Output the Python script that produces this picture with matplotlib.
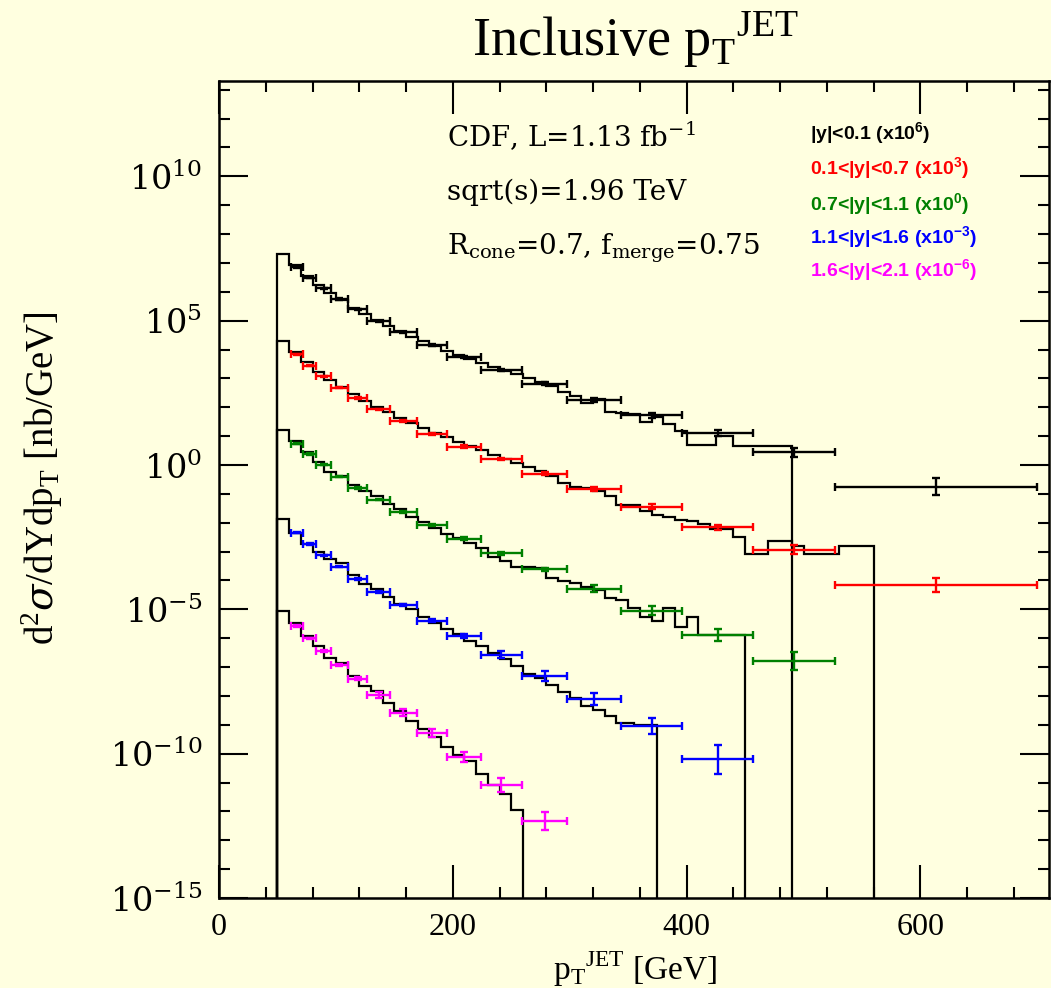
import numpy as np
import matplotlib
matplotlib.use("Agg")
import matplotlib.pyplot as plt
from matplotlib.ticker import FixedLocator, MultipleLocator, NullFormatter

plt.rcParams["mathtext.fontset"] = "dejavuserif"

# pT bins of the measurement (GeV)
pt_edges = [62, 72, 83, 96, 110, 127, 146, 169, 195, 224, 259, 298, 344, 396, 457, 527, 700]

labels = ["|y|<0.1 (x10$^{\\mathdefault{6}}$)",
          "0.1<|y|<0.7 (x10$^{\\mathdefault{3}}$)",
          "0.7<|y|<1.1 (x10$^{\\mathdefault{0}}$)",
          "1.1<|y|<1.6 (x10$^{\\mathdefault{−3}}$)",
          "1.6<|y|<2.1 (x10$^{\\mathdefault{−6}}$)"]
colors = ["black", "red", "#008000", "blue", "magenta"]
scales = [1e6, 1e3, 1e0, 1e-3, 1e-6]

# measured cross sections, log10(d2sigma/dYdpT [nb/GeV]) before scaling, one per pT bin
data_y1 = [0.85, 0.49, 0.12, -0.25, -0.61, -1.02, -1.41, -1.85, -2.26, -2.72, -3.19, -3.74, -4.28, -4.90, -5.56, -6.75]
data_y2 = [0.83, 0.44, 0.07, -0.32, -0.68, -1.07, -1.47, -1.92, -2.36, -2.80, -3.30, -3.84, -4.44, -5.16, -5.93, -7.15]
data_y3 = [0.74, 0.38, 0.01, -0.40, -0.79, -1.20, -1.62, -2.08, -2.55, -3.06, -3.62, -4.28, -5.05, -5.89, -6.80]
data_y4 = [0.66, 0.26, -0.13, -0.52, -0.95, -1.39, -1.85, -2.40, -2.94, -3.58, -4.31, -5.10, -6.05, -7.20]
data_y5 = [0.42, -0.01, -0.45, -0.92, -1.40, -1.96, -2.58, -3.29, -4.11, -5.09, -6.33]

# total error, in decades
err_y1 = [0.02, 0.02, 0.02, 0.02, 0.02, 0.02, 0.025, 0.03, 0.03, 0.04, 0.05, 0.07, 0.08, 0.1, 0.16, 0.3]
err_y2 = [0.02, 0.02, 0.02, 0.02, 0.02, 0.025, 0.025, 0.03, 0.035, 0.04, 0.05, 0.07, 0.075, 0.09, 0.17, 0.24]
err_y3 = [0.02, 0.02, 0.02, 0.02, 0.025, 0.025, 0.03, 0.035, 0.04, 0.05, 0.06, 0.13, 0.16, 0.21, 0.31]
err_y4 = [0.02, 0.02, 0.025, 0.025, 0.03, 0.035, 0.04, 0.05, 0.07, 0.12, 0.16, 0.21, 0.28, 0.5]
err_y5 = [0.03, 0.03, 0.035, 0.04, 0.05, 0.1, 0.13, 0.14, 0.17, 0.23, 0.32]

# theory histograms (log10, before scaling)
th_edges_y1 = list(range(50, 401, 10)) + [425, 440, 490]
th_y1 = [1.30, 0.92, 0.55, 0.22, -0.05, -0.30, -0.55, -0.78, -0.98, -1.18, -1.37, -1.55, -1.72,
         -1.88, -2.04, -2.18, -2.32, -2.46, -2.60, -2.73, -2.86, -3.00, -3.12, -3.25, -3.47,
         -3.62, -3.85, -3.70, -4.17, -4.20, -4.25, -4.51, -4.34, -4.57, -4.83, -5.31, -5.01, -5.34]
th_edges_y2 = list(range(50, 561, 10))
th_y2 = [1.29, 0.90, 0.55, 0.22, -0.05, -0.30, -0.55, -0.78, -0.98, -1.18, -1.37, -1.55, -1.72,
         -1.88, -2.04, -2.20, -2.34, -2.48, -2.65, -2.80, -2.93, -3.07, -3.22, -3.37, -3.63,
         -3.75, -3.80, -3.90, -4.06, -4.37, -4.37, -4.60, -4.75, -4.81, -4.90, -4.95, -5.04,
         -5.22, -5.22, -5.48, -6.08, -6.08, -5.62, -5.62, -5.80, -6.08, -6.08, -6.08, -5.82,
         -5.82, -5.82]
th_edges_y3 = list(range(50, 451, 10))
th_y3 = [1.22, 0.83, 0.44, 0.10, -0.25, -0.38, -0.68, -0.89, -1.09, -1.35, -1.52, -1.81, -1.99,
         -2.18, -2.39, -2.53, -2.72, -2.87, -3.18, -3.34, -3.55, -3.55, -3.57, -3.92, -4.01,
         -4.10, -4.22, -4.32, -4.62, -4.68, -4.96, -5.27, -5.40, -4.97, -5.60, -5.28, -5.90,
         -5.90, -5.90, -5.90]
th_edges_y4 = list(range(50, 341, 10)) + [355, 375]
th_y4 = [1.13, 0.65, 0.26, -0.03, -0.25, -0.40, -0.80, -1.13, -1.30, -1.59, -1.80, -1.99, -2.28,
         -2.46, -2.69, -2.86, -3.09, -3.28, -3.52, -3.73, -3.98, -4.23, -4.39, -4.61, -4.85,
         -5.06, -5.35, -5.50, -5.70, -5.93, -6.01]
th_edges_y5 = list(range(50, 261, 10))
th_y5 = [0.95, 0.54, 0.08, -0.27, -0.67, -0.85, -1.31, -1.66, -1.83, -2.26, -2.52, -2.87, -3.16,
         -3.43, -3.77, -4.03, -4.26, -4.72, -5.07, -5.40, -5.94]

data = [data_y1, data_y2, data_y3, data_y4, data_y5]
errs = [err_y1, err_y2, err_y3, err_y4, err_y5]
theory = [(th_edges_y1, th_y1), (th_edges_y2, th_y2), (th_edges_y3, th_y3),
          (th_edges_y4, th_y4), (th_edges_y5, th_y5)]

bg = "#FFFFE0"
W, H = 1051, 988
fig = plt.figure(figsize=(W / 100, H / 100), dpi=100, facecolor=bg)
ax = fig.add_axes([219 / W, 1 - 898 / H, (1049 - 219) / W, (898 - 81) / H])
ax.set_facecolor(bg)
ax.set_yscale("log")
ax.set_xlim(0, 710)
ax.set_ylim(1e-15, 2e13)

# theory first, data on top
for (edges, lg), sc in zip(theory, scales):
    vals = 10 ** np.array(lg) * sc
    ax.stairs(vals, edges, baseline=1e-15, color="black", lw=1.6)

for lg, er, sc, col in zip(data, errs, scales, colors):
    n = len(lg)
    lo = np.array(pt_edges[:n])
    hi = np.array(pt_edges[1:n + 1])
    x = (lo + hi) / 2
    y = 10 ** np.array(lg) * sc
    d = np.array(er)
    ax.errorbar(x, y, xerr=[x - lo, hi - x], yerr=[y * (1 - 10 ** -d), y * (10 ** d - 1)],
                fmt="none", ecolor=col, elinewidth=1.7, capsize=3, capthick=1.7, zorder=3)

# axes, ticks
for s in ax.spines.values():
    s.set_linewidth(1.8)
ax.xaxis.set_major_locator(FixedLocator([0, 200, 400, 600]))
ax.xaxis.set_minor_locator(MultipleLocator(40))
ax.set_xticklabels(["0", "200", "400", "600"], fontfamily="Liberation Serif", fontsize=23)
ydec = [-15, -10, -5, 0, 5, 10]
ax.yaxis.set_major_locator(FixedLocator([10.0 ** k for k in ydec]))
ax.yaxis.set_minor_locator(FixedLocator([10.0 ** k for k in range(-15, 14)]))
ax.yaxis.set_minor_formatter(NullFormatter())
ax.set_yticklabels(["$10^{%d}$" % k if k >= 0 else "$10^{−%d}$" % -k for k in ydec], fontsize=24)
ax.tick_params(which="both", direction="in", top=True, right=True, width=1.5)
ax.tick_params(axis="x", which="major", length=24, pad=11)
ax.tick_params(axis="y", which="major", length=21, pad=12)
ax.tick_params(which="minor", length=8)


def px(x, y):
    return x / W, 1 - y / H


fig.text(*px(635, 968), "p$_{\\mathdefault{T}}$$^{\\mathdefault{JET}}$ [GeV]",
         fontfamily="Liberation Serif", fontsize=24, ha="center", va="center")
fig.text(*px(42, 478), "d$^{\\mathdefault{2}}\\sigma$/dYdp$_{\\mathdefault{T}}$ [nb/GeV]",
         fontfamily="Liberation Serif", fontsize=28, ha="center", va="center", rotation=90)
fig.text(*px(635, 40), "Inclusive p$_{\\mathdefault{T}}$$^{\\mathdefault{JET}}$",
         fontfamily="Liberation Serif", fontsize=39, ha="center", va="center")

# annotations
fig.text(*px(447, 137), "CDF, L=1.13 fb$^{\\mathdefault{−1}}$", fontfamily="DejaVu Serif",
         fontsize=20, va="center")
fig.text(*px(447, 192), "sqrt(s)=1.96 TeV", fontfamily="DejaVu Serif", fontsize=20, va="center")
fig.text(*px(447, 248), "R$_{\\mathdefault{cone}}$=0.7, f$_{\\mathdefault{merge}}$=0.75",
         fontfamily="DejaVu Serif", fontsize=20, va="center")

leg_y = [133, 168, 204, 237, 270]
for lab, col, yy in zip(labels, colors, leg_y):
    fig.text(*px(810, yy), lab, color=col, fontfamily="Liberation Sans", fontweight="bold",
             fontsize=14, va="center")

fig.savefig("out.png", dpi=100, facecolor=bg)
